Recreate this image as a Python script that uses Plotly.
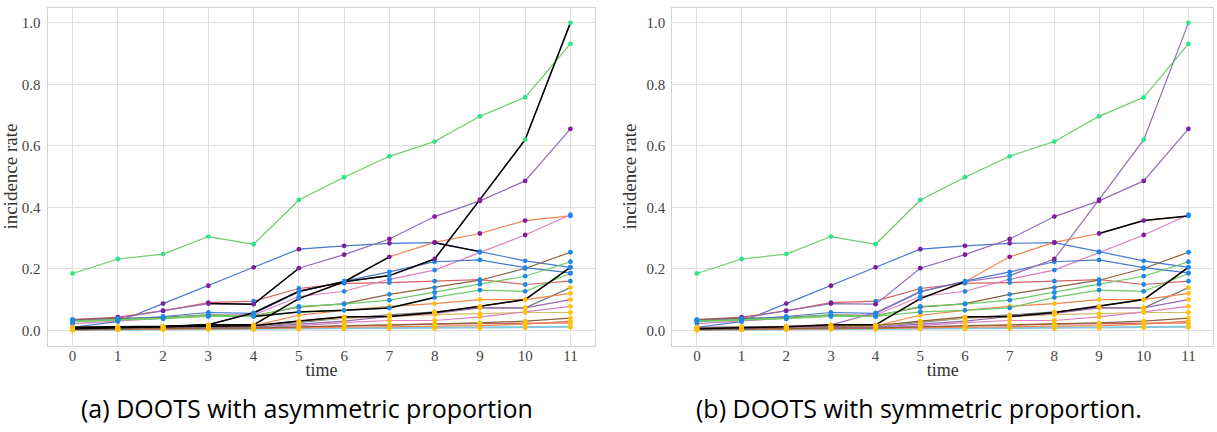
import plotly.graph_objects as go

# ---------------- data ----------------
times = list(range(12))
tick_labels = [str(t) for t in times]
ytick_vals = [0.0, 0.2, 0.4, 0.6, 0.8, 1.0]
ytick_text = ["0.0", "0.2", "0.4", "0.6", "0.8", "1.0"]

s_green_top = [0.185, 0.232, 0.248, 0.305, 0.280, 0.424, 0.498, 0.566, 0.614, 0.696, 0.758, 0.932]
s_surge = [0.010, 0.012, 0.013, 0.018, 0.057, 0.127, 0.158, 0.178, 0.232, 0.425, 0.620, 1.000]
s_blue_a = [0.010, 0.028, 0.087, 0.145, 0.205, 0.264, 0.275, 0.283, 0.285, 0.256, 0.226, 0.205]
s_blue_b = [0.032, 0.035, 0.045, 0.058, 0.055, 0.125, 0.160, 0.190, 0.223, 0.229, 0.204, 0.187]
s_purple_a = [0.030, 0.040, 0.064, 0.087, 0.085, 0.202, 0.246, 0.297, 0.370, 0.421, 0.486, 0.655]
s_orange_a = [0.005, 0.008, 0.012, 0.018, 0.018, 0.103, 0.158, 0.239, 0.286, 0.315, 0.357, 0.372]
s_pink_a = [0.022, 0.030, 0.038, 0.048, 0.050, 0.110, 0.127, 0.166, 0.196, 0.254, 0.310, 0.376]
s_brown_a = [0.035, 0.038, 0.042, 0.050, 0.048, 0.075, 0.087, 0.117, 0.139, 0.163, 0.201, 0.254]
s_green_b = [0.030, 0.036, 0.040, 0.050, 0.046, 0.078, 0.085, 0.098, 0.123, 0.150, 0.176, 0.223]
s_green_c = [0.028, 0.032, 0.038, 0.045, 0.045, 0.060, 0.065, 0.073, 0.107, 0.131, 0.127, 0.185]
s_red_a = [0.035, 0.043, 0.063, 0.090, 0.095, 0.136, 0.153, 0.155, 0.160, 0.165, 0.149, 0.160]
s_brown_b = [0.008, 0.010, 0.012, 0.014, 0.015, 0.030, 0.044, 0.045, 0.058, 0.078, 0.100, 0.205]
s_gray = [0.005, 0.008, 0.010, 0.012, 0.012, 0.025, 0.040, 0.050, 0.060, 0.073, 0.073, 0.139]
s_orange_b = [0.005, 0.008, 0.010, 0.012, 0.015, 0.049, 0.065, 0.078, 0.087, 0.100, 0.100, 0.120]
s_purple_b = [0.004, 0.006, 0.008, 0.010, 0.010, 0.020, 0.030, 0.045, 0.055, 0.073, 0.073, 0.100]
s_pink_b = [0.003, 0.005, 0.006, 0.008, 0.008, 0.015, 0.025, 0.032, 0.032, 0.044, 0.060, 0.078]
s_olive = [0.004, 0.006, 0.008, 0.012, 0.012, 0.030, 0.040, 0.044, 0.051, 0.054, 0.058, 0.058]
s_brown_c = [0.002, 0.004, 0.005, 0.007, 0.007, 0.012, 0.015, 0.018, 0.020, 0.024, 0.030, 0.040]
s_red_b = [0.002, 0.003, 0.004, 0.006, 0.006, 0.010, 0.014, 0.017, 0.020, 0.022, 0.024, 0.024]
s_cyan = [0.001, 0.002, 0.003, 0.004, 0.004, 0.005, 0.006, 0.008, 0.009, 0.010, 0.012, 0.013]
s_blue_c = [0.000, 0.001, 0.002, 0.003, 0.003, 0.004, 0.005, 0.006, 0.006, 0.007, 0.008, 0.010]
s_orange_c = [0.001, 0.002, 0.003, 0.004, 0.005, 0.008, 0.010, 0.012, 0.013, 0.015, 0.020, 0.030]

# cluster label of each point (G, P, B, A)
c_green_top = "GGGGGGGGGGGG"
c_surge = "AAAABBBBPPGG"
c_blue_a = "BBPPPPPPPBBB"
c_blue_b = "BBBBBBBBBBBB"
c_purple_a = "PPPPPPPPPPPP"
c_orange_a = "AAAAABBPPPPB"
c_pink_a = "BBBBBBBBBBPB"
c_brown_a = "BBBBBBBBBBBB"
c_green_b = "BBBBBBBBBBBB"
c_green_c = "BBBBBBBBBBBB"
c_red_a = "BPBPBBBBBBBB"
c_brown_b = "AAAAAAAAAAAB"
c_low = "AAAAAAAAAAAA"

series_names = ["blue_a", "orange_a", "green_top", "red_a", "purple_a", "brown_a", "pink_a",
                "gray", "olive", "cyan", "blue_b", "orange_b", "green_b", "red_b", "surge",
                "brown_b", "pink_b", "blue_c", "orange_c", "green_c", "purple_b", "brown_c"]
series_values = {
    "blue_a": s_blue_a, "orange_a": s_orange_a, "green_top": s_green_top, "red_a": s_red_a,
    "purple_a": s_purple_a, "brown_a": s_brown_a, "pink_a": s_pink_a, "gray": s_gray,
    "olive": s_olive, "cyan": s_cyan, "blue_b": s_blue_b, "orange_b": s_orange_b,
    "green_b": s_green_b, "red_b": s_red_b, "surge": s_surge, "brown_b": s_brown_b,
    "pink_b": s_pink_b, "blue_c": s_blue_c, "orange_c": s_orange_c, "green_c": s_green_c,
    "purple_b": s_purple_b, "brown_c": s_brown_c,
}
series_clusters = {
    "blue_a": c_blue_a, "orange_a": c_orange_a, "green_top": c_green_top, "red_a": c_red_a,
    "purple_a": c_purple_a, "brown_a": c_brown_a, "pink_a": c_pink_a, "gray": c_low,
    "olive": c_low, "cyan": c_low, "blue_b": c_blue_b, "orange_b": c_low,
    "green_b": c_green_b, "red_b": c_low, "surge": c_surge, "brown_b": c_brown_b,
    "pink_b": c_low, "blue_c": c_low, "orange_c": c_low, "green_c": c_green_c,
    "purple_b": c_low, "brown_c": c_low,
}
# highlighted (black) segments per panel: (series, start time, end time)
highlight_a = [("surge", 0, 11), ("blue_a", 8, 9), ("purple_a", 3, 5),
               ("orange_a", 0, 7), ("brown_b", 0, 11), ("green_c", 4, 8)]
highlight_b = [("orange_a", 0, 6), ("orange_a", 9, 11), ("brown_b", 6, 11)]

captions = ["(a) DOOTS with asymmetric proportion", "(b) DOOTS with symmetric proportion."]

# ---------------- style ----------------
line_colors = {
    "blue_a": "#4878d0", "blue_b": "#4878d0", "blue_c": "#82c6e2",
    "orange_a": "#ee854a", "orange_b": "#ee854a", "orange_c": "#ee854a",
    "green_top": "#6acc64", "green_b": "#6acc64", "green_c": "#6acc64",
    "red_a": "#d65f5f", "red_b": "#d65f5f",
    "purple_a": "#956cb4", "purple_b": "#956cb4", "surge": "#956cb4",
    "brown_a": "#8c613c", "brown_b": "#8c613c", "brown_c": "#8c613c",
    "pink_a": "#dc7ec0", "pink_b": "#dc7ec0",
    "gray": "#797979", "olive": "#d5bb67", "cyan": "#82c6e2",
}
cluster_colors = {"G": "#2ee58e", "P": "#7e1e9c", "B": "#1f88e5", "A": "#ffc107"}

fig = go.Figure()
panels = [("x", "y", highlight_a), ("x2", "y2", highlight_b)]
for xa, ya, highlights in panels:
    for name in series_names:
        fig.add_trace(go.Scatter(x=times, y=series_values[name], mode="lines",
                                 line=dict(color=line_colors[name], width=1.2),
                                 xaxis=xa, yaxis=ya, showlegend=False, hoverinfo="skip"))
    for name, s, e in highlights:
        fig.add_trace(go.Scatter(x=times[s:e + 1], y=series_values[name][s:e + 1], mode="lines",
                                 line=dict(color="black", width=1.5),
                                 xaxis=xa, yaxis=ya, showlegend=False, hoverinfo="skip"))
    for name in series_names:
        fig.add_trace(go.Scatter(x=times, y=series_values[name], mode="markers",
                                 marker=dict(size=4.8, color=[cluster_colors[c] for c in series_clusters[name]],
                                             line=dict(width=0)),
                                 xaxis=xa, yaxis=ya, showlegend=False, hoverinfo="skip"))

W, H = 1217, 432
top = 1 - 7.5 / H
bottom = 1 - 345.7 / H
serif = "Liberation Serif, Times New Roman, serif"
axis_common = dict(showgrid=True, gridcolor="#e0e0e0", gridwidth=1, zeroline=False,
                   showline=True, linecolor="#d4d4d4", linewidth=1.2, mirror=True, ticks="",
                   automargin=False,
                   tickfont=dict(family=serif, size=15, color="#444444"))
xcommon = dict(axis_common, range=[-0.55, 11.55], tickmode="array", tickvals=times, ticktext=tick_labels,
               ticklabelstandoff=-4,
               title=dict(text="time", font=dict(family=serif, size=18, color="#333333"),
                          standoff=0))
ycommon = dict(axis_common, range=[-0.05, 1.05], tickmode="array", tickvals=ytick_vals, ticktext=ytick_text,
               ticklabelstandoff=3,
               title=dict(text="incidence rate", font=dict(family=serif, size=19, color="#333333"),
                          standoff=4))

fig.update_layout(
    width=W, height=H, margin=dict(l=0, r=0, t=0, b=0, autoexpand=False),
    paper_bgcolor="white", plot_bgcolor="white",
    xaxis=dict(xcommon, domain=[47.7 / W, 595.3 / W], anchor="y"),
    yaxis=dict(ycommon, domain=[bottom, top], anchor="x"),
    xaxis2=dict(xcommon, domain=[672.3 / W, 1213 / W], anchor="y2"),
    yaxis2=dict(ycommon, domain=[bottom, top], anchor="x2"),
    annotations=[
        dict(text=captions[0], x=307 / W, y=1 - 408 / H, xref="paper", yref="paper",
             showarrow=False, font=dict(family="Open Sans", size=25, color="black"),
             xanchor="center", yanchor="middle"),
        dict(text=captions[1], x=919 / W, y=1 - 408 / H, xref="paper", yref="paper",
             showarrow=False, font=dict(family="Open Sans", size=25, color="black"),
             xanchor="center", yanchor="middle"),
    ],
)

fig.write_html("out.html", config={"displayModeBar": False},
               post_script="document.body.style.margin='0';document.body.style.overflow='hidden';")
